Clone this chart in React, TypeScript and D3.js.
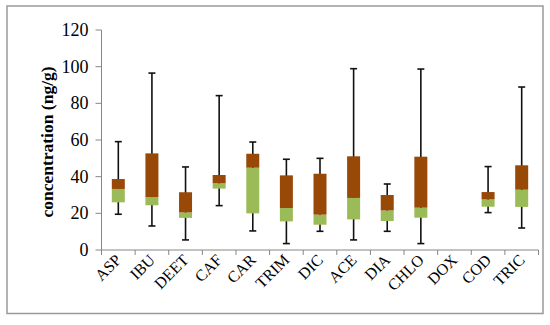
import * as d3 from "d3";
import { useEffect, useRef } from "react";

const categories = ["ASP", "IBU", "DEET", "CAF", "CAR", "TRIM", "DIC", "ACE", "DIA", "CHLO", "DOX", "COD", "TRIC"];
const minVals = [19.5, 13.1, 5.5, 24.2, 10.4, 3.5, 10.2, 5.5, 10.2, 3.5, null, 20.4, 12];
const q1Vals = [26, 24.4, 17.5, 33.5, 20, 15.6, 13.8, 16.7, 15.8, 17.6, null, 23.6, 23.5];
const medianVals = [33.3, 28.9, 20.5, 36.4, 44.9, 22.9, 19.3, 28.4, 21.6, 23.1, null, 27.6, 32.9];
const q3Vals = [38.7, 52.7, 31.5, 40.9, 52.5, 40.7, 41.6, 51.1, 30, 50.9, null, 31.6, 46.2];
const maxVals = [59.1, 96.5, 45.3, 84.2, 58.9, 49.5, 50, 98.9, 36, 98.7, null, 45.5, 88.9];
const yTicks = [0, 20, 40, 60, 80, 100, 120];

const serif = "Liberation Serif, Times New Roman, serif";

export default function App() {
    const ref = useRef<SVGSVGElement>(null);

    useEffect(() => {
        const svg = d3.select(ref.current);
        svg.selectAll("*").remove();

        const left = 101.5,
            right = 538.5,
            top = 30,
            bottom = 250;

        // outer frame
        svg.append("rect")
            .attr("x", 7)
            .attr("y", 6)
            .attr("width", 536)
            .attr("height", 307.5)
            .attr("fill", "#fff")
            .attr("stroke", "#9a9a9a")
            .attr("stroke-width", 1.5);

        const x = d3.scaleBand().domain(categories).range([left, right]);
        const y = d3.scaleLinear().domain([0, 120]).range([bottom, top]);

        // y axis
        svg.append("line")
            .attr("x1", left).attr("x2", left)
            .attr("y1", top).attr("y2", bottom)
            .attr("stroke", "#868686");
        const gy = svg.append("g");
        gy.selectAll("line")
            .data(yTicks)
            .join("line")
            .attr("x1", left - 6).attr("x2", left)
            .attr("y1", (d) => y(d)).attr("y2", (d) => y(d))
            .attr("stroke", "#868686");
        gy.selectAll("text")
            .data(yTicks)
            .join("text")
            .attr("x", left - 13)
            .attr("y", (d) => y(d))
            .attr("dy", "0.34em")
            .attr("text-anchor", "end")
            .style("font-family", serif)
            .style("font-size", "18px")
            .text((d) => d);

        // x axis: ticks at band boundaries
        svg.append("line")
            .attr("x1", left).attr("x2", right)
            .attr("y1", bottom).attr("y2", bottom)
            .attr("stroke", "#868686");
        const bounds = categories.map((c) => x(c)!).concat([right]);
        svg.append("g")
            .selectAll("line")
            .data(bounds)
            .join("line")
            .attr("x1", (d) => d).attr("x2", (d) => d)
            .attr("y1", bottom).attr("y2", bottom + 5)
            .attr("stroke", "#868686");

        svg.append("g")
            .selectAll("text")
            .data(categories)
            .join("text")
            .attr("transform", (d) => `translate(${x(d)! + x.bandwidth() / 2 + 4},${bottom + 11}) rotate(-45)`)
            .attr("text-anchor", "end")
            .style("font-family", serif)
            .style("font-size", "16px")
            .text((d) => d);

        // y title
        svg.append("text")
            .attr("transform", `translate(53,${(top + bottom) / 2 + 2}) rotate(-90)`)
            .attr("text-anchor", "middle")
            .style("font-family", serif)
            .style("font-weight", "bold")
            .style("font-size", "17.5px")
            .text("concentration (ng/g)");

        const boxW = 13;
        const idx = categories.map((c, i) => i).filter((i) => minVals[i] != null);
        const cx = (i: number) => x(categories[i])! + x.bandwidth() / 2;

        // whiskers
        const gw = svg.append("g").attr("stroke", "#111").attr("stroke-width", 1.6);
        gw.selectAll("line.w")
            .data(idx)
            .join("line")
            .attr("class", "w")
            .attr("x1", (i) => cx(i)).attr("x2", (i) => cx(i))
            .attr("y1", (i) => y(minVals[i]!)).attr("y2", (i) => y(maxVals[i]!));
        gw.selectAll("line.cmax")
            .data(idx)
            .join("line")
            .attr("class", "cmax")
            .attr("x1", (i) => cx(i) - 3.5).attr("x2", (i) => cx(i) + 3.5)
            .attr("y1", (i) => y(maxVals[i]!)).attr("y2", (i) => y(maxVals[i]!));
        gw.selectAll("line.cmin")
            .data(idx)
            .join("line")
            .attr("class", "cmin")
            .attr("x1", (i) => cx(i) - 3.5).attr("x2", (i) => cx(i) + 3.5)
            .attr("y1", (i) => y(minVals[i]!)).attr("y2", (i) => y(minVals[i]!));

        // lower box (q1 -> median)
        svg.append("g")
            .selectAll("rect")
            .data(idx)
            .join("rect")
            .attr("x", (i) => cx(i) - boxW / 2)
            .attr("width", boxW)
            .attr("y", (i) => y(medianVals[i]!))
            .attr("height", (i) => y(q1Vals[i]!) - y(medianVals[i]!))
            .attr("fill", "#9BBB59");

        // upper box (median -> q3)
        svg.append("g")
            .selectAll("rect")
            .data(idx)
            .join("rect")
            .attr("x", (i) => cx(i) - boxW / 2)
            .attr("width", boxW)
            .attr("y", (i) => y(q3Vals[i]!))
            .attr("height", (i) => y(medianVals[i]!) - y(q3Vals[i]!))
            .attr("fill", "#984807");
    }, []);

    return <svg ref={ref} width={550} height={325} style={{ position: "absolute", left: 0, top: 0 }}></svg>;
}
